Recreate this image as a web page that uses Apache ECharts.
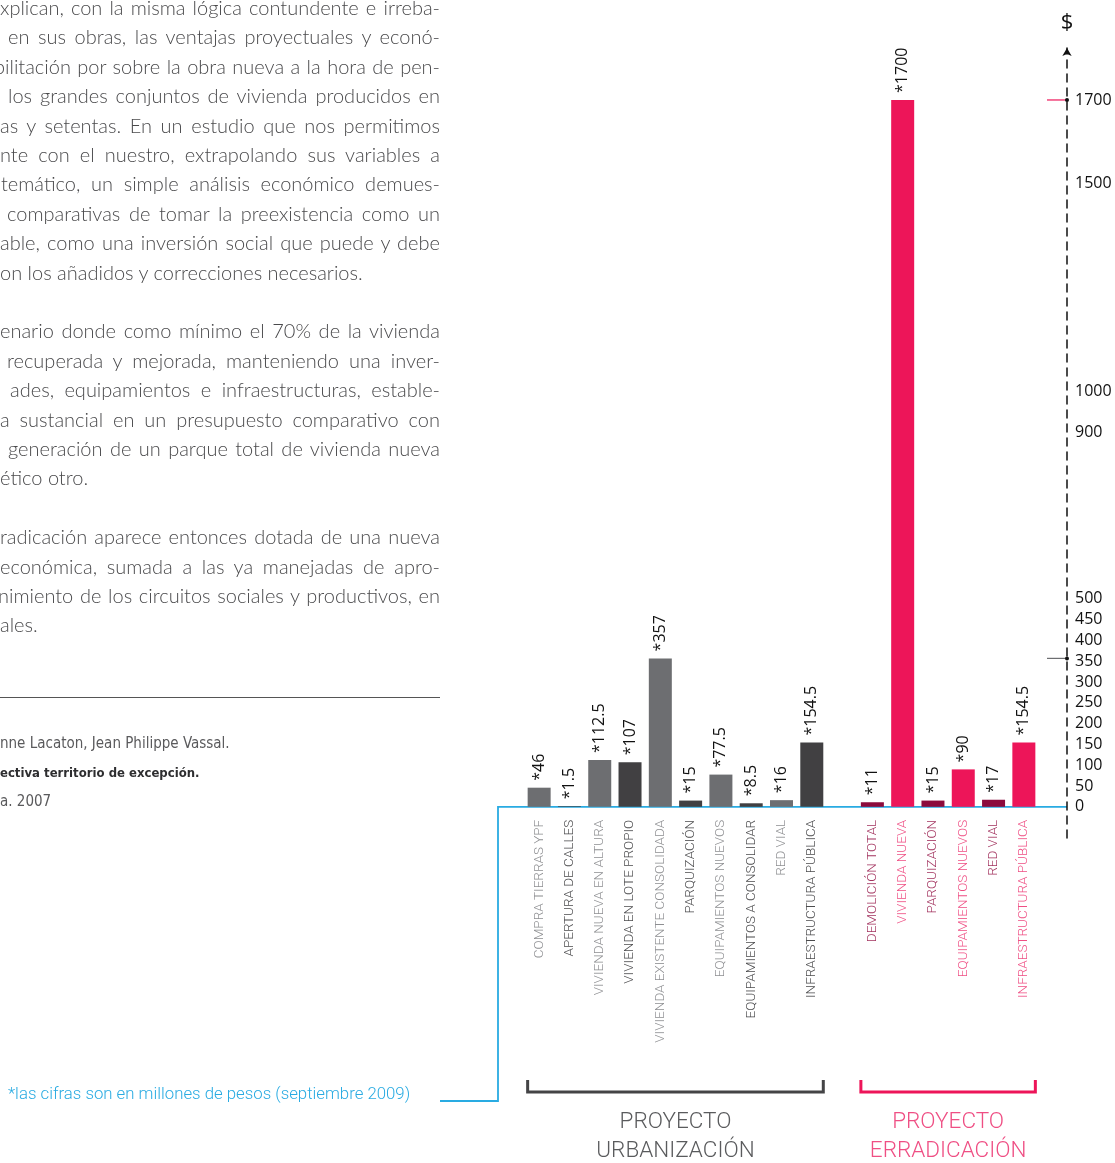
<!DOCTYPE html>
<html>
<head>
<meta charset="utf-8">
<script src="https://cdn.jsdelivr.net/npm/echarts@6/dist/echarts.min.js"></script>
<style>
  html, body { margin: 0; padding: 0; background: #fff; }
  #page { position: relative; width: 1115px; height: 1163px; overflow: hidden; background: #fff; }
  #chart { position: absolute; left: 0; top: 0; width: 1115px; height: 1163px; }
  .line {
    position: absolute; height: 29.4px; line-height: 29.4px;
    font-family: "Lato", sans-serif; font-weight: 300; font-size: 20px; color: #4a4a4c;
    white-space: nowrap;
  }
  #rule { position: absolute; left: 0; top: 697px; width: 440px; height: 0; border-top: 1.5px solid #555; }
  .ref { position: absolute; left: 0; font-family: "DejaVu Sans Condensed", sans-serif; font-size: 15px; color: #5a5a5c; line-height: 20px; white-space: nowrap; }
  .ref b { color: #2e2e30; font-weight: bold; font-size: 13px; }
</style>
</head>
<body>
<div id="page">
  <div id="chart"></div>
  <div id="prose"></div>
  <div id="rule"></div>
  <div class="ref" style="top:733px">nne Lacaton, Jean Philippe Vassal.</div>
  <div class="ref" style="top:762px"><b>ectiva territorio de excepción.</b></div>
  <div class="ref" style="top:791px">a. 2007</div>
</div>
<script>
// ---- data ----
const urbanizacionCategories = [
  'COMPRA TIERRAS YPF', 'APERTURA DE CALLES', 'VIVIENDA NUEVA EN ALTURA',
  'VIVIENDA EN LOTE PROPIO', 'VIVIENDA EXISTENTE CONSOLIDADA', 'PARQUIZACIÓN',
  'EQUIPAMIENTOS NUEVOS', 'EQUIPAMIENTOS A CONSOLIDAR', 'RED VIAL', 'INFRAESTRUCTURA PÚBLICA'
];
const urbanizacionValues = [46, 1.5, 112.5, 107, 357, 15, 77.5, 8.5, 16, 154.5];

const erradicacionCategories = [
  'DEMOLICIÓN TOTAL', 'VIVIENDA NUEVA', 'PARQUIZACIÓN',
  'EQUIPAMIENTOS NUEVOS', 'RED VIAL', 'INFRAESTRUCTURA PÚBLICA'
];
const erradicacionValues = [11, 1700, 15, 90, 17, 154.5];

const yTickLabels = [0, 50, 100, 150, 200, 250, 300, 350, 400, 450, 500, 900, 1000, 1500, 1700];
const groupTitles = [['PROYECTO', 'URBANIZACIÓN'], ['PROYECTO', 'ERRADICACIÓN']];
const footnote = '*las cifras son en millones de pesos (septiembre 2009)';

// ---- body text on the left (each entry is one typeset line: text, indent, justified) ----
const proseLines = [
  ['xplican, con la misma lógica contundente e irreba-', 0, true],
  ['en sus obras, las ventajas proyectuales y econó-', 8, true],
  ['bilitación por sobre la obra nueva a la hora de pen-', -6, true],
  ['los grandes conjuntos de vivienda producidos en', 8, true],
  ['as y setentas. En un estudio que nos permitimos', 0, true],
  ['nte con el nuestro, extrapolando sus variables a', 0, true],
  ['temático, un simple análisis económico demues-', 1, true],
  ['comparativas de tomar la preexistencia como un', 7, true],
  ['able, como una inversión social que puede y debe', 0, true],
  ['on los añadidos y correcciones necesarios.', 0, false],
  null,
  ['enario donde como mínimo el 70% de la vivienda', 0, true],
  ['recuperada y mejorada, manteniendo una inver-', 7, true],
  ['ades, equipamientos e infraestructuras, estable-', 10, true],
  ['a sustancial en un presupuesto comparativo con', 0, true],
  ['generación de un parque total de vivienda nueva', 8, true],
  ['ético otro.', 0, false],
  null,
  ['radicación aparece entonces dotada de una nueva', 0, true],
  ['económica, sumada a las ya manejadas de apro-', 0, true],
  ['nimiento de los circuitos sociales y productivos, en', -2, true],
  ['ales.', 0, false]
];

// ---- palette & layout ----
const PALETTE = {
  urbBars: ['#6d6e71', '#414042'],
  urbText: ['#8e8f92', '#4b4b4d'],
  errBars: ['#8c0b3c', '#ed1559'],
  errText: ['#a2325e', '#ef4f84'],
  blue: '#29abe2',
  ink: '#111111'
};
const GRID = { left: 524, top: 48, width: 515, height: 790 };
const Y_MIN = -75, Y_MAX = 1825, Y_STEP = 25;
const AXIS_OFFSET = 28;
const BAR_WIDTH = 23;
const TEXT_RIGHT = 440;
// category labels hang 13px below the zero line (the grid's bottom edge sits below zero)
const LABEL_MARGIN = 13 - GRID.height * (0 - Y_MIN) / (Y_MAX - Y_MIN);

// prose: each full line is stretched (or tightened) to end exactly at the right margin
const prose = document.getElementById('prose');
proseLines.forEach((ln, i) => {
  if (!ln) return;
  const d = document.createElement('div');
  d.className = 'line';
  d.style.top = (i * 29.4 - 7) + 'px';
  d.style.left = ln[1] + 'px';
  d.textContent = ln[0];
  prose.appendChild(d);
  if (ln[2]) {
    const avail = TEXT_RIGHT - ln[1];
    const natural = d.getBoundingClientRect().width;
    const gaps = (ln[0].match(/ /g) || []).length;
    if (gaps) d.style.wordSpacing = ((avail - natural) / gaps) + 'px';
  }
});

// combined category axis with a blank slot between the two projects
const categories = [...urbanizacionCategories, '', ...erradicacionCategories];
const barData = [
  ...urbanizacionValues.map((v, i) => ({ value: v, itemStyle: { color: PALETTE.urbBars[i % 2] } })),
  null,
  ...erradicacionValues.map((v, i) => ({ value: v, itemStyle: { color: PALETTE.errBars[i % 2] } }))
];
const labelColors = [
  ...urbanizacionCategories.map((_, i) => PALETTE.urbText[i % 2]),
  '#fff',
  ...erradicacionCategories.map((_, i) => PALETTE.errText[i % 2])
];

const chart = echarts.init(document.getElementById('chart'), null, { renderer: 'canvas' });
chart.setOption({
  animation: false,
  backgroundColor: 'transparent',
  grid: { left: GRID.left, top: GRID.top, width: GRID.width, height: GRID.height, containLabel: false },
  xAxis: {
    type: 'category',
    data: categories,
    axisLine: { show: false },
    axisTick: { show: false },
    axisLabel: {
      interval: 0, rotate: 90, margin: LABEL_MARGIN,
      fontFamily: 'Roboto', fontWeight: 300, fontSize: 13.5,
      color: (v, i) => labelColors[i]
    },
    splitLine: { show: false }
  },
  yAxis: {
    type: 'value',
    position: 'right',
    offset: AXIS_OFFSET,
    min: Y_MIN, max: Y_MAX, interval: Y_STEP,
    splitLine: { show: false },
    axisTick: { show: false },
    axisLine: {
      show: true,
      symbol: ['none', 'arrow'],
      symbolSize: [7, 8],
      lineStyle: { color: PALETTE.ink, width: 1.5, type: [8, 6] }
    },
    axisLabel: {
      formatter: v => (yTickLabels.includes(v) ? String(v) : ''),
      margin: 8, fontFamily: 'Open Sans', fontSize: 16, color: PALETTE.ink
    },
    name: '$',
    nameLocation: 'end',
    nameGap: 14,
    nameTextStyle: { fontFamily: 'Open Sans', fontSize: 22, color: PALETTE.ink, align: 'center' }
  },
  series: [{
    type: 'bar',
    data: barData,
    barWidth: BAR_WIDTH,
    label: {
      show: true, position: 'top', rotate: 90, align: 'left', verticalAlign: 'middle', distance: 7,
      formatter: p => '*' + p.value,
      fontFamily: 'Open Sans', fontSize: 16, color: PALETTE.ink
    }
  }]
});

// decorations tied to the axes
const yPx = v => chart.convertToPixel({ yAxisIndex: 0 }, v);
const xPx = i => chart.convertToPixel({ xAxisIndex: 0 }, i);
const y0 = yPx(0);
const axisX = GRID.left + GRID.width + AXIS_OFFSET;
const urbMaxY = yPx(Math.max(...urbanizacionValues));
const errMaxY = yPx(Math.max(...erradicacionValues));

const urbStart = 0, urbEnd = urbanizacionCategories.length - 1;
const errStart = urbanizacionCategories.length + 1, errEnd = categories.length - 1;
const urbL = xPx(urbStart) - BAR_WIDTH / 2, urbR = xPx(urbEnd) + BAR_WIDTH / 2;
const errL = xPx(errStart) - BAR_WIDTH / 2, errR = xPx(errEnd) + BAR_WIDTH / 2;

const bracket = (l, r, color) => ({
  type: 'polyline',
  shape: { points: [[l, 1080], [l, 1092], [r, 1092], [r, 1080]] },
  style: { stroke: color, lineWidth: 3, fill: null }
});
const title = (cx, y, text, color) => ({
  type: 'text', x: cx, y: y,
  style: { text: text, fill: color, font: '300 22.5px Roboto', align: 'center', verticalAlign: 'middle' }
});
const marker = (y, color) => ([
  { type: 'line', shape: { x1: axisX - 20, y1: y, x2: axisX, y2: y }, style: { stroke: color, lineWidth: 1.2 } },
  { type: 'circle', shape: { cx: axisX, cy: y, r: 2 }, style: { fill: '#111' } }
]);

chart.setOption({
  graphic: { elements: [
    {
      type: 'polyline',
      shape: { points: [[axisX, y0], [498, y0], [498, 1101], [440, 1101]] },
      style: { stroke: PALETTE.blue, lineWidth: 1.8, fill: null }
    },
    ...marker(urbMaxY, '#6d6e71'),
    ...marker(errMaxY, '#ed1559'),
    bracket(urbL, urbR, '#444446'),
    bracket(errL, errR, '#ed1559'),
    title((urbL + urbR) / 2, 1122, groupTitles[0][0], '#5a5b5d'),
    title((urbL + urbR) / 2, 1151, groupTitles[0][1], '#5a5b5d'),
    title((errL + errR) / 2, 1122, groupTitles[1][0], '#ef4f84'),
    title((errL + errR) / 2, 1151, groupTitles[1][1], '#ef4f84'),
    {
      type: 'text', x: 8, y: 1095,
      style: { text: footnote, fill: PALETTE.blue, font: '300 16.8px Roboto', align: 'left', verticalAlign: 'middle' }
    }
  ] }
});
</script>
</body>
</html>
